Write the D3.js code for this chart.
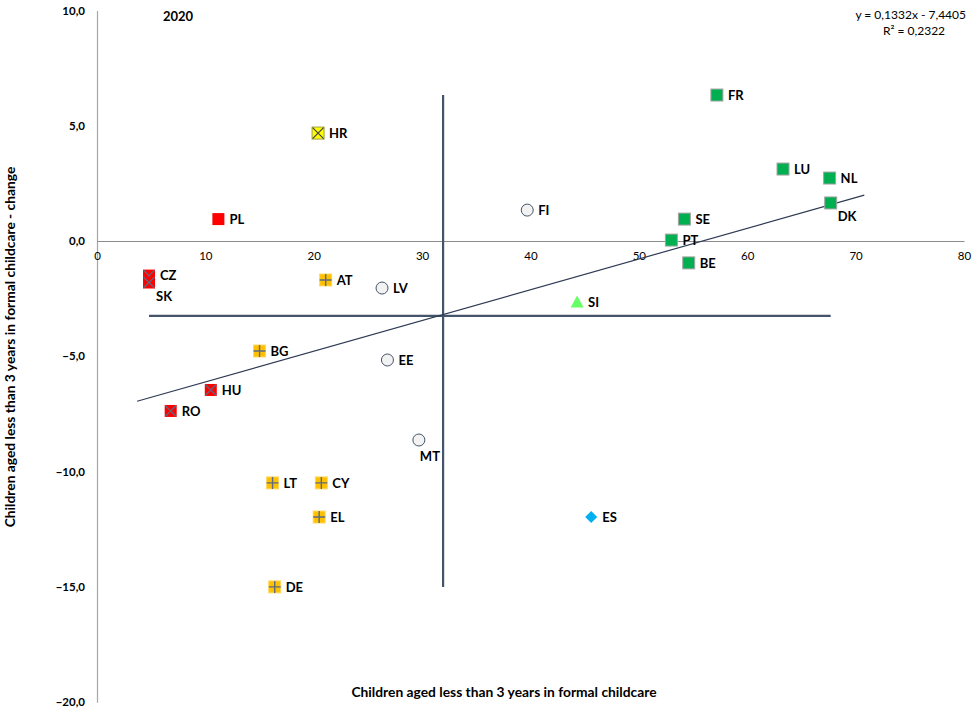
<!DOCTYPE html>
<html>
<head>
<meta charset="utf-8">
<script src="https://cdn.jsdelivr.net/npm/d3@7"></script>
<style>
  body { margin: 0; background: #fff; }
  text { font-family: Lato, "Open Sans", sans-serif; fill: #000; }
</style>
</head>
<body>
<div id="chart"></div>
<script>
// Countries, coverage (x) and change (y), marker group
var countries = ["FR", "LU", "NL", "DK", "SE", "PT", "BE", "FI", "HR", "PL", "CZ", "SK", "AT", "LV", "SI", "BG", "EE", "HU", "RO", "MT", "LT", "CY", "EL", "ES", "DE"];
var coverage = [57.2, 63.3, 67.6, 67.7, 54.2, 53.0, 54.6, 39.7, 20.4, 11.2, 4.8, 4.8, 21.1, 26.3, 44.3, 15.0, 26.8, 10.5, 6.8, 29.7, 16.2, 20.7, 20.5, 45.6, 16.4];
var change = [6.33, 3.12, 2.73, 1.65, 0.95, 0.04, -0.95, 1.34, 4.68, 0.95, -1.5, -1.8, -1.69, -2.04, -2.65, -4.77, -5.16, -6.46, -7.37, -8.63, -10.49, -10.49, -11.97, -11.97, -15.0];
var groups = ["green", "green", "green", "green", "green", "green", "green", "circle", "yellowX", "red", "redX", "redX", "plus", "circle", "triangle", "plus", "circle", "redX", "redX", "circle", "plus", "plus", "plus", "diamond", "plus"];

var xTicks = [0, 10, 20, 30, 40, 50, 60, 70, 80];
var yTicks = [10, 5, 0, -5, -10, -15, -20];

// trend line from the equation shown on the chart
var slope = 0.1332, intercept = -7.4405;
var trendRange = [3.7, 70.8];

var data = countries.map(function(c, i) {
    return { name: c, x: coverage[i], y: change[i], group: groups[i] };
});

var width = 974, height = 713;

var svg = d3.select("#chart").append("svg")
    .attr("width", width)
    .attr("height", height);

var x = d3.scaleLinear().domain([0, 80]).range([97, 964]);
var y = d3.scaleLinear().domain([-20, 10]).range([702.2, 10.4]);

var fmt = function(d) { return d3.format(".1f")(d).replace(".", ","); };

// y axis
var yAxis = svg.append("g")
    .attr("transform", "translate(" + x(0) + ",0)")
    .call(d3.axisLeft(y).tickValues(yTicks).tickSize(0).tickPadding(12).tickFormat(fmt));
yAxis.select(".domain").attr("stroke", "#a6a6a6").attr("stroke-width", 1.2);
yAxis.selectAll("text").attr("font-size", 11.5).attr("font-weight", "bold");

// x axis through zero
var xAxis = svg.append("g")
    .attr("transform", "translate(0," + y(0) + ")")
    .call(d3.axisBottom(x).tickValues(xTicks).tickSize(0).tickPadding(11));
xAxis.select(".domain").attr("stroke", "#8c8c8c").attr("stroke-width", 1);
xAxis.selectAll("text").attr("font-size", 11.5);

// mean lines spanning the data extent
var meanX = d3.mean(coverage), meanY = d3.mean(change);
var xExt = d3.extent(coverage), yExt = d3.extent(change);
var lineColor = "#44546a";

svg.append("line")
    .attr("x1", x(meanX)).attr("x2", x(meanX))
    .attr("y1", y(yExt[1])).attr("y2", y(yExt[0]))
    .attr("stroke", lineColor).attr("stroke-width", 2.2);

svg.append("line")
    .attr("x1", x(xExt[0])).attr("x2", x(xExt[1]))
    .attr("y1", y(meanY)).attr("y2", y(meanY))
    .attr("stroke", lineColor).attr("stroke-width", 2.2);

// trend line
svg.append("line")
    .attr("x1", x(trendRange[0])).attr("y1", y(slope * trendRange[0] + intercept))
    .attr("x2", x(trendRange[1])).attr("y2", y(slope * trendRange[1] + intercept))
    .attr("stroke", "#2f3b55").attr("stroke-width", 1.2);

// markers
var pts = svg.selectAll(".pt")
    .data(data)
    .enter().append("g")
    .attr("class", "pt")
    .attr("transform", function(d) { return "translate(" + x(d.x) + "," + y(d.y) + ")"; });

var s = 6;
pts.each(function(d) {
    var g = d3.select(this);
    if (d.group === "green") {
        g.append("rect").attr("x", -s).attr("y", -s).attr("width", 2 * s).attr("height", 2 * s)
            .attr("fill", "#00b050").attr("stroke", "#a5a5a5").attr("stroke-width", 1);
    } else if (d.group === "red" || d.group === "redX" || d.group === "yellowX" || d.group === "plus") {
        var fill = d.group === "yellowX" ? "#ffff00" : (d.group === "plus" ? "#ffc000" : "#ff0000");
        g.append("rect").attr("x", -s).attr("y", -s).attr("width", 2 * s).attr("height", 2 * s)
            .attr("fill", fill).attr("stroke", d.group === "plus" ? "#ffd966" : (d.group === "yellowX" ? "#a0a040" : "none"));
        if (d.group === "redX" || d.group === "yellowX") {
            g.append("path").attr("d", "M-5.5,-5.5L5.5,5.5M5.5,-5.5L-5.5,5.5")
                .attr("stroke", d.group === "yellowX" ? "#404040" : "#5b6b80").attr("stroke-width", 1.2);
        }
        if (d.group === "plus") {
            g.append("path").attr("d", "M-6,0L6,0M0,-6L0,6")
                .attr("stroke", "#5b6b80").attr("stroke-width", 1.4);
        }
    } else if (d.group === "circle") {
        g.append("circle").attr("r", 6)
            .attr("fill", "#f2f2f2").attr("stroke", "#44546a").attr("stroke-width", 1);
    } else if (d.group === "triangle") {
        g.append("path").attr("d", "M0,-6.5L6.5,5.5L-6.5,5.5Z")
            .attr("fill", "#66ff66");
    } else if (d.group === "diamond") {
        g.append("path").attr("d", "M0,-6L6,0L0,6L-6,0Z")
            .attr("fill", "#00b0f0");
    }
});

// labels (a few sit below the marker)
var below = { SK: [7, 14], DK: [7, 13], MT: [1, 16] };
pts.append("text")
    .attr("x", function(d) { return below[d.name] ? below[d.name][0] : 11; })
    .attr("y", function(d) { return below[d.name] ? below[d.name][1] : 0; })
    .attr("dy", "0.36em")
    .attr("font-size", 13)
    .attr("font-weight", "bold")
    .text(function(d) { return d.name; });

// year
svg.append("text")
    .attr("x", 178).attr("y", 16).attr("dy", "0.36em")
    .attr("text-anchor", "middle")
    .attr("font-size", 13).attr("font-weight", "bold")
    .text("2020");

// equation
svg.append("text")
    .attr("x", 966).attr("y", 15).attr("dy", "0.36em")
    .attr("text-anchor", "end").attr("font-size", 12)
    .text("y = 0,1332x - 7,4405");
svg.append("text")
    .attr("x", 914).attr("y", 31).attr("dy", "0.36em")
    .attr("text-anchor", "middle").attr("font-size", 12)
    .text("R² = 0,2322");

// axis titles
svg.append("text")
    .attr("x", 504).attr("y", 692).attr("dy", "0.36em")
    .attr("text-anchor", "middle")
    .attr("font-size", 13.8).attr("font-weight", "bold")
    .text("Children aged less than 3 years in formal childcare");

svg.append("text")
    .attr("transform", "translate(10,347) rotate(-90)")
    .attr("dy", "0.36em")
    .attr("text-anchor", "middle")
    .attr("font-size", 13.8).attr("font-weight", "bold")
    .text("Children aged less than 3 years in formal childcare - change");
</script>
</body>
</html>
